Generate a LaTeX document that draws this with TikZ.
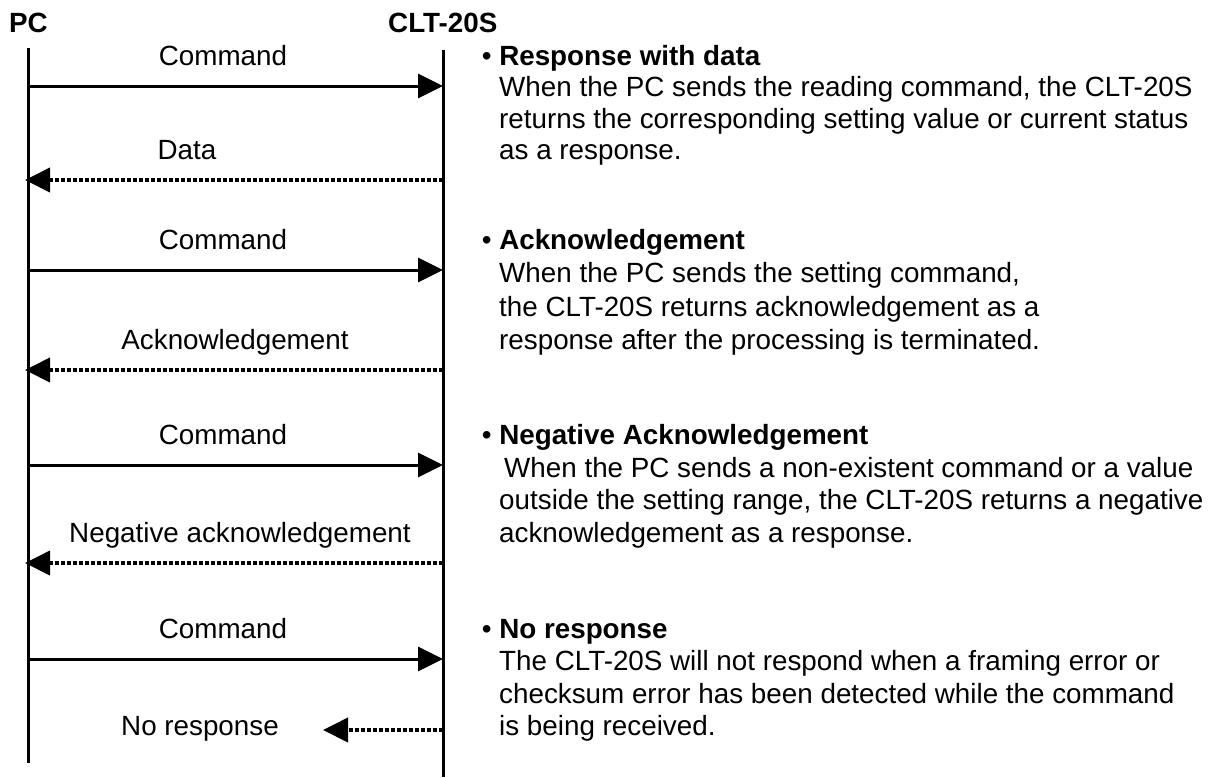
\documentclass[tikz,border=0pt]{standalone}
\usepackage{fontspec}
\setmainfont{Liberation Sans}
\usetikzlibrary{arrows.meta}
\begin{document}
\begin{tikzpicture}[x=1pt,y=-1pt,
  life/.style={line width=3pt},
  msg/.style={line width=3pt,-{Triangle[length=25pt,width=24pt]}},
  reply/.style={line width=4pt,dash pattern=on 4pt off 2pt,-{Triangle[length=25pt,width=24pt]}},
  lbl/.style={anchor=base,inner sep=0pt,font=\fontsize{27.8}{32}\selectfont},
  txt/.style={anchor=base west,inner sep=0pt,font=\fontsize{27.8}{32}\selectfont},
  hdr/.style={anchor=base west,inner sep=0pt,font=\fontsize{27.8}{32}\selectfont\bfseries}]
\useasboundingbox (0,0) rectangle (1222,777);
% headers
\node[hdr] (pc) at (9,32) {PC};
\node[hdr] (clt) at (388,32) {CLT-20S};
% lifelines
\coordinate (pcTop) at (28,48);
\coordinate (pcBot) at (28,763);
\coordinate (cltTop) at (443,50);
\coordinate (cltBot) at (443,777);
\draw[life] (pcTop) -- (pcBot);
\draw[life] (cltTop) -- (cltBot);
% message end points
\coordinate (p1) at (28,86);  \coordinate (c1) at (443,86);
\coordinate (r1) at (443,180); \coordinate (q1) at (25,180);
\coordinate (p2) at (28,270); \coordinate (c2) at (443,270);
\coordinate (r2) at (443,370); \coordinate (q2) at (25,370);
\coordinate (p3) at (28,465); \coordinate (c3) at (443,465);
\coordinate (r3) at (443,563); \coordinate (q3) at (25,563);
\coordinate (p4) at (28,659); \coordinate (c4) at (443,659);
\coordinate (r4) at (443,730); \coordinate (q4) at (323,730);
\draw[msg] (p1) -- (c1);
\draw[reply] (r1) -- (q1);
\draw[msg] (p2) -- (c2);
\draw[reply] (r2) -- (q2);
\draw[msg] (p3) -- (c3);
\draw[reply] (r3) -- (q3);
\draw[msg] (p4) -- (c4);
\draw[reply] (r4) -- (q4);
% arrow labels
\node[lbl] (l1) at (223,65) {Command};
\node[lbl] (l2) at (187,159) {Data};
\node[lbl] (l3) at (223,249) {Command};
\node[lbl] (l4) at (235,349) {Acknowledgement};
\node[lbl] (l5) at (223,444) {Command};
\node[lbl] (l6) at (240,542) {Negative acknowledgement};
\node[lbl] (l7) at (223,638) {Command};
\node[lbl] (l8) at (200,735) {No response};
% descriptions
\node[txt] (a0) at (481.6,65) {•\ \textbf{Response with data}};
\node[txt] (a1) at (499,96) {When the PC sends the reading command, the CLT-20S};
\node[txt] (a2) at (499,128) {returns the corresponding setting value or current status};
\node[txt] (a3) at (499,159) {as a response.};
\node[txt] (b0) at (481.6,249) {•\ \textbf{Acknowledgement}};
\node[txt] (b1) at (499,282) {When the PC sends the setting command,};
\node[txt] (b2) at (499,316) {the CLT-20S returns acknowledgement as a};
\node[txt] (b3) at (499,349) {response after the processing is terminated.};
\node[txt] (c0) at (481.6,444) {•\ \textbf{Negative Acknowledgement}};
\node[txt] (cc1) at (504,477) {When the PC sends a non-existent command or a value};
\node[txt] (cc2) at (499,509) {outside the setting range, the CLT-20S returns a negative};
\node[txt] (cc3) at (499,542) {acknowledgement as a response.};
\node[txt] (d0) at (481.6,638) {•\ \textbf{No response}};
\node[txt] (d1) at (499,670) {The CLT-20S will not respond when a framing error or};
\node[txt] (d2) at (499,703) {checksum error has been detected while the command};
\node[txt] (d3) at (499,735) {is being received.};
\end{tikzpicture}
\end{document}
